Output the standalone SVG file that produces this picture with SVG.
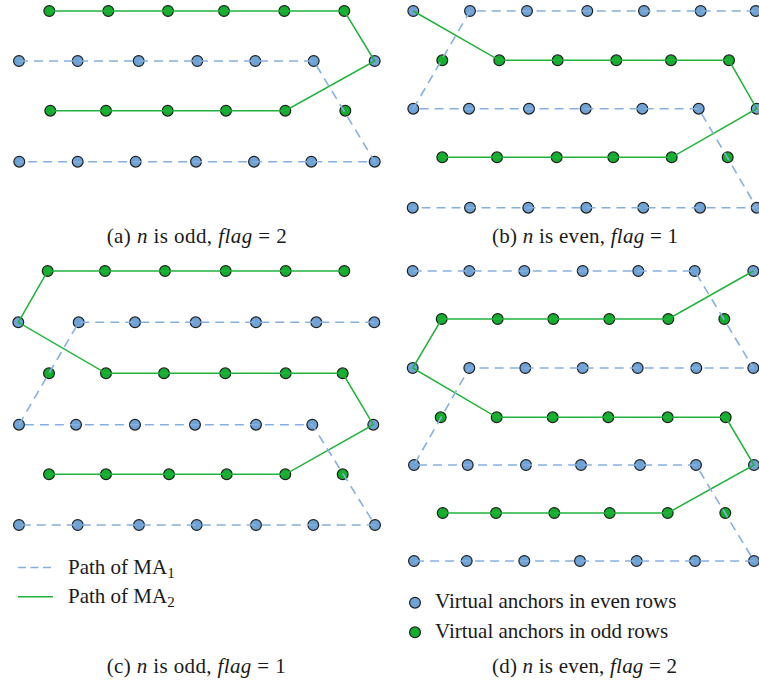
<svg xmlns="http://www.w3.org/2000/svg" width="759" height="688" viewBox="0 0 759 688">
<style>
.b{fill:#6fa3d6;stroke:#1e1e1e;stroke-width:1.2}
.g{fill:#14ae2e;stroke:#1e1e1e;stroke-width:1.2}
.p1{fill:none;stroke:#86b0de;stroke-width:1.6;stroke-dasharray:9 6}
.p2{fill:none;stroke:#21b23b;stroke-width:1.5}
text{font-family:"Liberation Serif","Times New Roman",serif;font-size:21px;fill:#1a1a1a}
.it{font-style:italic}
</style>
<rect width="759" height="688" fill="#fff"/>

<!-- Panel a nodes -->
<g id="panel-a">
<g id="a-r1"><circle class="g" cx="49.3" cy="11" r="5.4"/><circle class="g" cx="108.3" cy="11" r="5.4"/><circle class="g" cx="168" cy="11" r="5.4"/><circle class="g" cx="224" cy="11" r="5.4"/><circle class="g" cx="284.3" cy="11" r="5.4"/><circle class="g" cx="344.3" cy="11" r="5.4"/></g>
<g id="a-r2"><circle class="b" cx="19" cy="61" r="5.4"/><circle class="b" cx="77.7" cy="61" r="5.4"/><circle class="b" cx="138.7" cy="61" r="5.4"/><circle class="b" cx="197.3" cy="61" r="5.4"/><circle class="b" cx="255.3" cy="61" r="5.4"/><circle class="b" cx="313.7" cy="61" r="5.4"/><circle class="b" cx="374.7" cy="61" r="5.4"/></g>
<g id="a-r3"><circle class="g" cx="50.3" cy="110.7" r="5.4"/><circle class="g" cx="106" cy="110.7" r="5.4"/><circle class="g" cx="167.7" cy="110.7" r="5.4"/><circle class="g" cx="226" cy="110.7" r="5.4"/><circle class="g" cx="285.3" cy="110.7" r="5.4"/><circle class="g" cx="345.3" cy="110.7" r="5.4"/></g>
<g id="a-r4"><circle class="b" cx="19.3" cy="161.7" r="5.4"/><circle class="b" cx="77.7" cy="161.7" r="5.4"/><circle class="b" cx="135.7" cy="161.7" r="5.4"/><circle class="b" cx="196" cy="161.7" r="5.4"/><circle class="b" cx="254" cy="161.7" r="5.4"/><circle class="b" cx="311.3" cy="161.7" r="5.4"/><circle class="b" cx="374.7" cy="161.7" r="5.4"/></g>
</g>

<!-- Panel b nodes -->
<g id="panel-b">
<g id="b-r1"><circle class="b" cx="413.3" cy="11" r="5.4"/><circle class="b" cx="470" cy="11" r="5.4"/><circle class="b" cx="527" cy="11" r="5.4"/><circle class="b" cx="587.3" cy="11" r="5.4"/><circle class="b" cx="644" cy="11" r="5.4"/><circle class="b" cx="700.7" cy="11" r="5.4"/><circle class="b" cx="755.7" cy="11" r="5.4"/></g>
<g id="b-r2"><circle class="g" cx="442.3" cy="60.3" r="5.4"/><circle class="g" cx="499.3" cy="60.3" r="5.4"/><circle class="g" cx="557.7" cy="60.3" r="5.4"/><circle class="g" cx="616.3" cy="60.3" r="5.4"/><circle class="g" cx="671" cy="60.3" r="5.4"/><circle class="g" cx="729" cy="60.3" r="5.4"/></g>
<g id="b-r3"><circle class="b" cx="413.3" cy="108.7" r="5.4"/><circle class="b" cx="469" cy="108.7" r="5.4"/><circle class="b" cx="529" cy="108.7" r="5.4"/><circle class="b" cx="585.7" cy="108.7" r="5.4"/><circle class="b" cx="642.3" cy="108.7" r="5.4"/><circle class="b" cx="698.7" cy="108.7" r="5.4"/><circle class="b" cx="756.7" cy="108.7" r="5.4"/></g>
<g id="b-r4"><circle class="g" cx="442.3" cy="157.3" r="5.4"/><circle class="g" cx="497" cy="157.3" r="5.4"/><circle class="g" cx="556.7" cy="157.3" r="5.4"/><circle class="g" cx="613.3" cy="157.3" r="5.4"/><circle class="g" cx="671.7" cy="157.3" r="5.4"/><circle class="g" cx="727.7" cy="157.3" r="5.4"/></g>
<g id="b-r5"><circle class="b" cx="412.7" cy="207.7" r="5.4"/><circle class="b" cx="470" cy="207.7" r="5.4"/><circle class="b" cx="528.3" cy="207.7" r="5.4"/><circle class="b" cx="586.3" cy="207.7" r="5.4"/><circle class="b" cx="643.3" cy="207.7" r="5.4"/><circle class="b" cx="700" cy="207.7" r="5.4"/><circle class="b" cx="756.7" cy="207.7" r="5.4"/></g>
</g>

<!-- Panel c nodes -->
<g id="panel-c">
<g id="c-r1"><circle class="g" cx="47.7" cy="271" r="5.4"/><circle class="g" cx="105" cy="271" r="5.4"/><circle class="g" cx="165" cy="271" r="5.4"/><circle class="g" cx="225.7" cy="271" r="5.4"/><circle class="g" cx="285.7" cy="271" r="5.4"/><circle class="g" cx="344.3" cy="271" r="5.4"/></g>
<g id="c-r2"><circle class="b" cx="18.3" cy="322.3" r="5.4"/><circle class="b" cx="78.7" cy="322.3" r="5.4"/><circle class="b" cx="135" cy="322.3" r="5.4"/><circle class="b" cx="195.7" cy="322.3" r="5.4"/><circle class="b" cx="256" cy="322.3" r="5.4"/><circle class="b" cx="316.3" cy="322.3" r="5.4"/><circle class="b" cx="374.3" cy="322.3" r="5.4"/></g>
<g id="c-r3"><circle class="g" cx="49" cy="373.3" r="5.4"/><circle class="g" cx="106" cy="373.3" r="5.4"/><circle class="g" cx="164" cy="373.3" r="5.4"/><circle class="g" cx="225.3" cy="373.3" r="5.4"/><circle class="g" cx="285.7" cy="373.3" r="5.4"/><circle class="g" cx="342.7" cy="373.3" r="5.4"/></g>
<g id="c-r4"><circle class="b" cx="19" cy="424.7" r="5.4"/><circle class="b" cx="76" cy="424.7" r="5.4"/><circle class="b" cx="135" cy="424.7" r="5.4"/><circle class="b" cx="195" cy="424.7" r="5.4"/><circle class="b" cx="256" cy="424.7" r="5.4"/><circle class="b" cx="312.3" cy="424.7" r="5.4"/><circle class="b" cx="373.3" cy="424.7" r="5.4"/></g>
<g id="c-r5"><circle class="g" cx="49" cy="474.3" r="5.4"/><circle class="g" cx="106" cy="474.3" r="5.4"/><circle class="g" cx="169" cy="474.3" r="5.4"/><circle class="g" cx="226.7" cy="474.3" r="5.4"/><circle class="g" cx="285.3" cy="474.3" r="5.4"/><circle class="g" cx="342.7" cy="474.3" r="5.4"/></g>
<g id="c-r6"><circle class="b" cx="19" cy="525" r="5.4"/><circle class="b" cx="77.7" cy="525" r="5.4"/><circle class="b" cx="139" cy="525" r="5.4"/><circle class="b" cx="196.7" cy="525" r="5.4"/><circle class="b" cx="256" cy="525" r="5.4"/><circle class="b" cx="313.3" cy="525" r="5.4"/><circle class="b" cx="375" cy="525" r="5.4"/></g>
</g>

<!-- Panel d nodes -->
<g id="panel-d">
<g id="d-r1"><circle class="b" cx="412.7" cy="271" r="5.4"/><circle class="b" cx="469.3" cy="271" r="5.4"/><circle class="b" cx="524.3" cy="271" r="5.4"/><circle class="b" cx="582.7" cy="271" r="5.4"/><circle class="b" cx="638.3" cy="271" r="5.4"/><circle class="b" cx="694.7" cy="271" r="5.4"/><circle class="b" cx="753.3" cy="271" r="5.4"/></g>
<g id="d-r2"><circle class="g" cx="441.7" cy="319" r="5.4"/><circle class="g" cx="497.7" cy="319" r="5.4"/><circle class="g" cx="553.3" cy="319" r="5.4"/><circle class="g" cx="609.3" cy="319" r="5.4"/><circle class="g" cx="668.3" cy="319" r="5.4"/><circle class="g" cx="724.3" cy="319" r="5.4"/></g>
<g id="d-r3"><circle class="b" cx="412.7" cy="368" r="5.4"/><circle class="b" cx="469.3" cy="368" r="5.4"/><circle class="b" cx="525.3" cy="368" r="5.4"/><circle class="b" cx="582.7" cy="368" r="5.4"/><circle class="b" cx="637.7" cy="368" r="5.4"/><circle class="b" cx="696.3" cy="368" r="5.4"/><circle class="b" cx="753.3" cy="368" r="5.4"/></g>
<g id="d-r4"><circle class="g" cx="440.7" cy="417.3" r="5.4"/><circle class="g" cx="496.7" cy="417.3" r="5.4"/><circle class="g" cx="552.7" cy="417.3" r="5.4"/><circle class="g" cx="608.3" cy="417.3" r="5.4"/><circle class="g" cx="667.7" cy="417.3" r="5.4"/><circle class="g" cx="725.7" cy="417.3" r="5.4"/></g>
<g id="d-r5"><circle class="b" cx="414" cy="465" r="5.4"/><circle class="b" cx="467.7" cy="465" r="5.4"/><circle class="b" cx="526" cy="465" r="5.4"/><circle class="b" cx="581" cy="465" r="5.4"/><circle class="b" cx="640" cy="465" r="5.4"/><circle class="b" cx="696" cy="465" r="5.4"/><circle class="b" cx="754" cy="465" r="5.4"/></g>
<g id="d-r6"><circle class="g" cx="442.7" cy="513" r="5.4"/><circle class="g" cx="496" cy="513" r="5.4"/><circle class="g" cx="554.3" cy="513" r="5.4"/><circle class="g" cx="609.7" cy="513" r="5.4"/><circle class="g" cx="667.7" cy="513" r="5.4"/><circle class="g" cx="725.3" cy="513" r="5.4"/></g>
<g id="d-r7"><circle class="b" cx="414" cy="561" r="5.4"/><circle class="b" cx="466.7" cy="561" r="5.4"/><circle class="b" cx="524.3" cy="561" r="5.4"/><circle class="b" cx="580" cy="561" r="5.4"/><circle class="b" cx="636.7" cy="561" r="5.4"/><circle class="b" cx="695" cy="561" r="5.4"/><circle class="b" cx="754" cy="561" r="5.4"/></g>
</g>

<!-- Connectors -->
<g id="connectors">
<path class="p2" d="M49.3,11 H344.3 L374.7,61 L285.3,110.7 H50.3"/>
<path class="p1" d="M19,61 H313.7 L374.7,161.7 H19.3"/>
<path class="p2" d="M413.3,11 L499.3,60.3 H729 L756.7,108.7 L671.7,157.3 H442.3"/>
<path class="p1" d="M755.7,11 H470 L413.3,108.7 H698.7 L756.7,207.7 H412.7"/>
<path class="p2" d="M344.3,271 H47.7 L18.3,322.3 L106,373.3 H342.7 L373.3,424.7 L285.3,474.3 H49"/>
<path class="p1" d="M374.3,322.3 H78.7 L19,424.7 H312.3 L375,525 H19"/>
<path class="p2" d="M753.3,271 L668.3,319 H441.7 L412.7,368 L496.7,417.3 H725.7 L754,465 L667.7,513 H442.7"/>
<path class="p1" d="M412.7,271 H694.7 L753.3,368 H469.3 L414,465 H696 L754,561 H414"/>
</g>

<!-- Legends -->
<g id="legend-paths">
<line class="p1" x1="18" y1="567.5" x2="53" y2="567.5" style="stroke-dasharray:8 4.5"/>
<text x="68" y="574">Path of MA<tspan dy="4" font-size="15">1</tspan></text>
<line class="p2" x1="18" y1="596.7" x2="53" y2="596.7"/>
<text x="68" y="602.7">Path of MA<tspan dy="4" font-size="15">2</tspan></text>
</g>
<g id="legend-anchors">
<circle class="b" cx="415" cy="602.7" r="5.4"/>
<text x="435" y="608.3">Virtual anchors in even rows</text>
<circle class="g" cx="415" cy="632.3" r="5.4"/>
<text x="435" y="638.3">Virtual anchors in odd rows</text>
</g>

<!-- Captions -->
<g id="captions">
<text x="106.7" y="243.3" textLength="180" lengthAdjust="spacing">(a) <tspan class="it">n</tspan> is odd, <tspan class="it">flag</tspan> = 2</text>
<text x="492" y="243.3" textLength="186" lengthAdjust="spacing">(b) <tspan class="it">n</tspan> is even, <tspan class="it">flag</tspan> = 1</text>
<text x="106.7" y="673.3" textLength="179" lengthAdjust="spacing">(c) <tspan class="it">n</tspan> is odd, <tspan class="it">flag</tspan> = 1</text>
<text x="492" y="673.3" textLength="185" lengthAdjust="spacing">(d) <tspan class="it">n</tspan> is even, <tspan class="it">flag</tspan> = 2</text>
</g>
</svg>
